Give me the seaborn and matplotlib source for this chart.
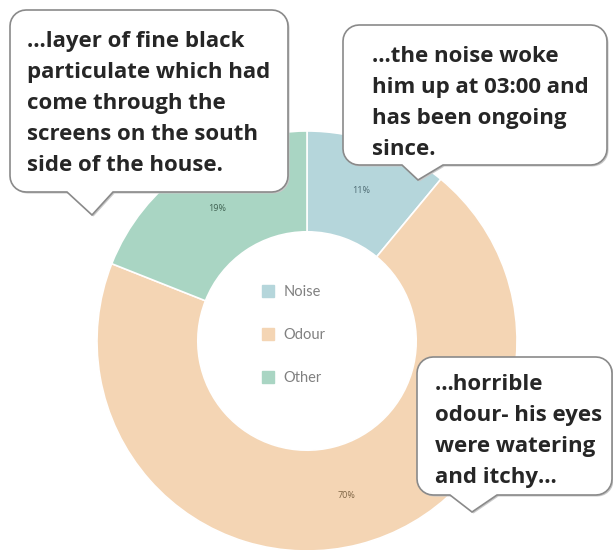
import matplotlib
matplotlib.use("Agg")
import matplotlib.pyplot as plt
from matplotlib.patches import Polygon
from matplotlib.lines import Line2D
import seaborn as sns
import numpy as np

categories = ["Noise", "Odour", "Other"]
shares = [11, 70, 19]
slice_colors = ["#b5d6db", "#f4d5b4", "#a9d5c3"]
pct_colors = ["#4d6a72", "#7d6444", "#416353"]

quotes = [
    "\u2026layer of fine black\nparticulate which had\ncome through the\nscreens on the south\nside of the house.",
    "\u2026the noise woke\nhim up at 03:00 and\nhas been ongoing\nsince.",
    "\u2026horrible\nodour- his eyes\nwere watering\nand itchy\u2026",
]

W, H = 613, 550


def bubble_points(x0, y0, x1, y1, tail, r=16, n=8):
    # rounded box with a pointer on the bottom edge, pixel coords (y down)
    tl, tr, tx, ty = tail
    pts = []

    def arc(cx, cy, a0, a1):
        for a in np.linspace(a0, a1, n):
            pts.append((cx + r * np.cos(a), cy + r * np.sin(a)))

    arc(x0 + r, y0 + r, np.pi, 1.5 * np.pi)
    arc(x1 - r, y0 + r, 1.5 * np.pi, 2 * np.pi)
    arc(x1 - r, y1 - r, 0, 0.5 * np.pi)
    pts += [(tr, y1), (tx, ty), (tl, y1)]
    arc(x0 + r, y1 - r, 0.5 * np.pi, np.pi)
    return [(x / W, 1 - y / H) for x, y in pts]


def main():
    sns.set_theme(style="white")
    plt.rcParams["font.family"] = ["Open Sans", "DejaVu Sans"]

    fig = plt.figure(figsize=(W / 100, H / 100), dpi=100)
    cx, cy, R = 307, 341, 210
    ax = fig.add_axes([(cx - R) / W, (H - cy - R) / H, 2 * R / W, 2 * R / H])

    wedges, _, autotexts = ax.pie(
        shares,
        colors=slice_colors,
        startangle=90,
        counterclock=False,
        radius=1.0,
        autopct="%d%%",
        pctdistance=0.76,
        wedgeprops=dict(width=0.48, edgecolor="white", linewidth=1.2),
        textprops=dict(fontsize=6.5),
    )
    for t, c in zip(autotexts, pct_colors):
        t.set_color(c)
    ax.set_xlim(-1, 1)
    ax.set_ylim(-1, 1)
    ax.axis("off")

    handles = [
        Line2D([0], [0], marker="s", linestyle="", markersize=9,
               markerfacecolor=c, markeredgecolor=c)
        for c in slice_colors
    ]
    fig.legend(
        handles, categories, loc="center",
        bbox_to_anchor=(293 / W, 1 - 335 / H),
        frameon=False, labelcolor="#808080",
        labelspacing=2.0, handletextpad=0.6, handlelength=1.0,
        prop=dict(family="Lato", size=10.5),
    )

    boxes = [
        ((10, 10, 288, 192), (67, 113, 92, 215), (27, 31)),
        ((343, 25, 607, 165), (402, 443, 418, 180), (372, 46)),
        ((417, 357, 612, 495), (450, 497, 472, 512), (435, 374)),
    ]
    for text, (rect, tail, pos) in zip(quotes, boxes):
        shadow = [(x + 1.5 / W, y - 1.5 / H) for x, y in bubble_points(*rect, tail)]
        fig.add_artist(Polygon(shadow, closed=True, transform=fig.transFigure,
                               facecolor="#c8c8c8", edgecolor="none", zorder=4))
        fig.add_artist(Polygon(bubble_points(*rect, tail), closed=True,
                               transform=fig.transFigure, facecolor="white",
                               edgecolor="#8a8a8a", linewidth=1.2, zorder=5))
        fig.text(pos[0] / W, 1 - pos[1] / H, text, ha="left", va="top",
                 fontsize=16, fontweight="bold", color="#262626",
                 linespacing=1.62, zorder=6)

    fig.savefig("out.png", dpi=100)
    plt.close(fig)


if __name__ == "__main__":
    main()
